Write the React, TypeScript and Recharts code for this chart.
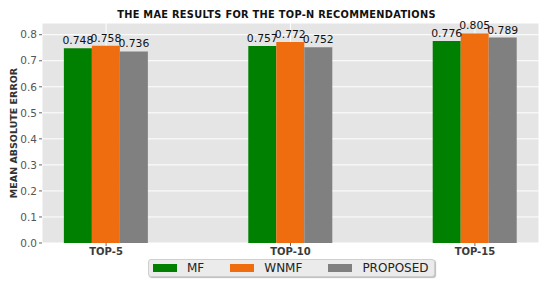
import { BarChart, Bar, XAxis, YAxis, CartesianGrid, LabelList } from "recharts";

const categories = ["TOP-5", "TOP-10", "TOP-15"];
const mf = [0.748, 0.757, 0.776];
const wnmf = [0.758, 0.772, 0.805];
const proposed = [0.736, 0.752, 0.789];
const yTicks = [0, 0.1, 0.2, 0.3, 0.4, 0.5, 0.6, 0.7, 0.8];

const series = [
  { key: "MF", color: "#008000" },
  { key: "WNMF", color: "#EF6C0F" },
  { key: "PROPOSED", color: "#808080" },
];

const data = categories.map((name, i) => ({
  x: i,
  name,
  MF: mf[i],
  WNMF: wnmf[i],
  PROPOSED: proposed[i],
}));

const font = "'DejaVu Sans', sans-serif";

export default function App() {
  return (
    <div style={{ position: "absolute", left: 0, top: 0, width: 550, height: 286, background: "#fff", fontFamily: font }}>
      <div style={{ position: "absolute", top: 9, left: 0, width: 553, textAlign: "center", fontSize: 9.8, fontWeight: "bold", color: "#111", letterSpacing: 0.3 }}>
        THE MAE RESULTS FOR THE TOP-N RECOMMENDATIONS
      </div>
      <div style={{ position: "absolute", left: 13, top: 133, transform: "translate(-50%, -50%) rotate(-90deg)", fontSize: 9.5, fontWeight: "bold", color: "#333", whiteSpace: "nowrap" }}>
        MEAN ABSOLUTE ERROR
      </div>
      <BarChart
        width={550}
        height={286}
        data={data}
        margin={{ top: 23, right: 11, bottom: 0, left: 0 }}
        barGap={0}
        barCategoryGap={0}
      >
        <CartesianGrid stroke="#ffffff" strokeWidth={1} fill="#E5E5E5" />
        <XAxis
          dataKey="x"
          type="number"
          domain={[-0.3475, 2.3475]}
          ticks={[0, 1, 2]}
          allowDataOverflow
          height={43}
          axisLine={false}
          tickSize={3}
          tickLine={{ stroke: "#666" }}
          tickFormatter={(v: number) => categories[v] ?? ""}
          tick={{ fill: "#3a3a3a", fontSize: 10, fontWeight: "bold", fontFamily: font }}
        />
        <YAxis
          type="number"
          domain={[0, 0.845]}
          ticks={yTicks}
          allowDataOverflow
          width={42}
          axisLine={false}
          tickSize={3}
          tickLine={{ stroke: "#666" }}
          tickFormatter={(v: number) => v.toFixed(1)}
          tick={{ fill: "#555", fontSize: 10.5, fontFamily: font }}
        />
        {series.map((s) => (
          <Bar key={s.key} dataKey={s.key} fill={s.color} barSize={28} isAnimationActive={false}>
            <LabelList
              dataKey={s.key}
              position="top"
              offset={4}
              formatter={(v: number) => v.toFixed(3)}
              style={{ fill: "#111", fontSize: 10.8, fontFamily: font }}
            />
          </Bar>
        ))}
      </BarChart>
      <div
        style={{
          position: "absolute",
          left: 148,
          top: 259,
          width: 287,
          height: 18,
          background: "#EBEBEB",
          border: "1px solid #cfcfcf",
          borderRadius: 3,
          boxShadow: "1px 1px 1px #bbb",
          display: "flex",
          alignItems: "center",
          boxSizing: "border-box",
          fontSize: 12,
          color: "#222",
        }}
      >
        {series.map((s, i) => (
          <div key={s.key} style={{ display: "flex", alignItems: "center", marginLeft: i === 0 ? 4 : 26 }}>
            <span style={{ display: "inline-block", width: 24, height: 8, background: s.color, marginRight: 10 }} />
            <span>{s.key}</span>
          </div>
        ))}
      </div>
    </div>
  );
}
